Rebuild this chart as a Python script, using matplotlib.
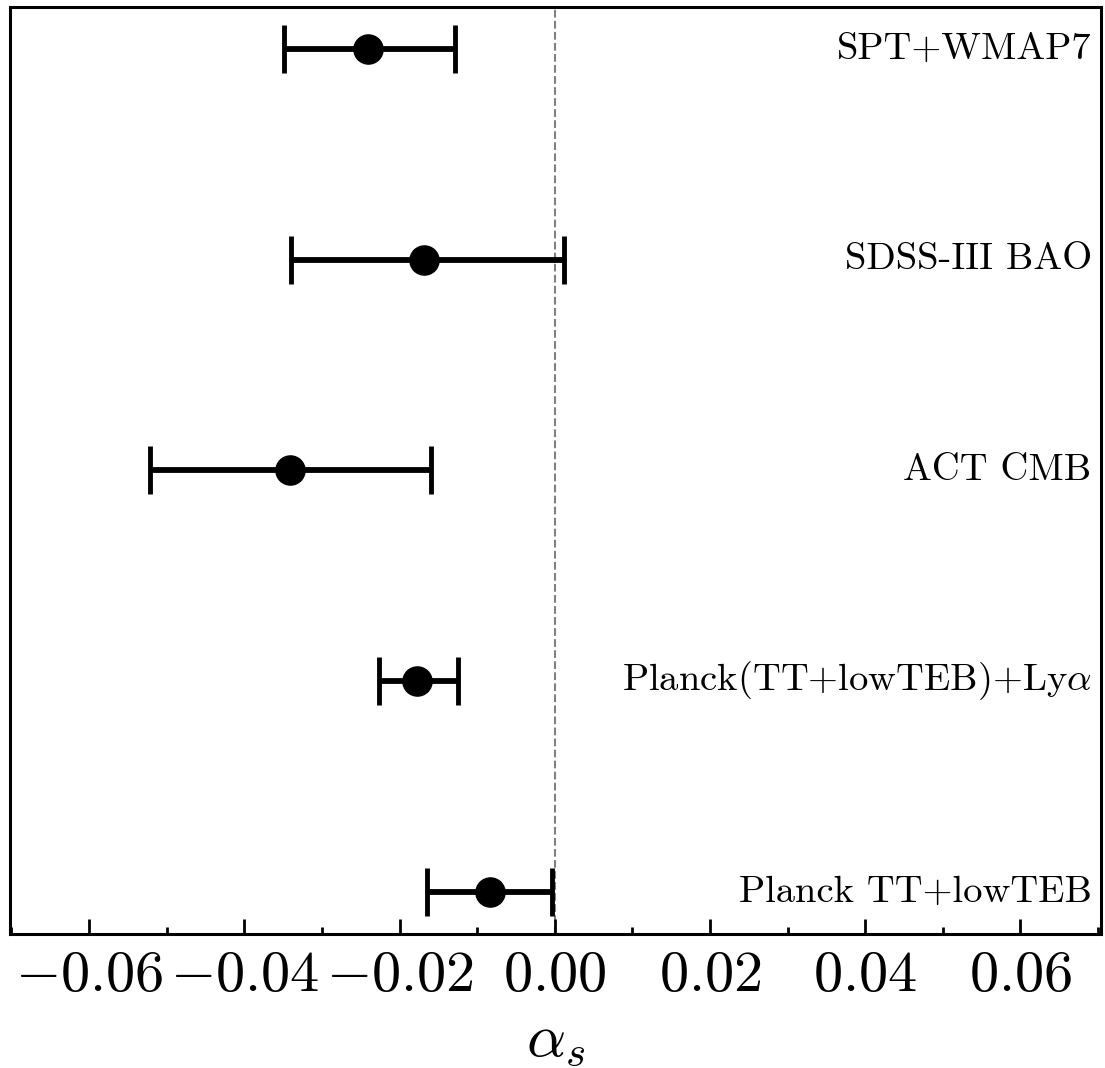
import matplotlib
matplotlib.use("Agg")
import matplotlib.pyplot as plt
from matplotlib.ticker import MultipleLocator

plt.rcParams['font.family'] = 'serif'
plt.rcParams['font.serif'] = ['cmr10']
plt.rcParams['mathtext.fontset'] = 'cm'
plt.rcParams['axes.formatter.use_mathtext'] = True

labels = ["SPT+WMAP7", "SDSS-III BAO", "ACT CMB",
          r"Planck(TT+lowTEB)+Ly$\alpha$", "Planck TT+lowTEB"]
centers = [-0.024, -0.0169, -0.0341, -0.0177, -0.0084]
err_lo = [0.0109, 0.0171, 0.0180, 0.0049, 0.0080]
err_hi = [0.0111, 0.0181, 0.0181, 0.0053, 0.0081]
ypos = [4, 3, 2, 1, 0]

fig = plt.figure(figsize=(11.05, 10.68), dpi=100)
ax = fig.add_axes([0.009, 0.1255, 0.9874, 0.8683])

ax.axvline(0.0, color='grey', ls='--', lw=1.5, zorder=1)
ax.errorbar(centers, ypos, xerr=[err_lo, err_hi], fmt='o', color='black',
            ms=21, elinewidth=4.2, capsize=17.5, capthick=3.5, zorder=3)

for lab, y in zip(labels, ypos):
    ax.text(0.0692, y, lab, ha='right', va='center', fontsize=27.8)

ax.set_xlim(-0.0702, 0.0704)
ax.set_ylim(-0.2, 4.2)
ax.set_yticks([])
ax.xaxis.set_major_locator(MultipleLocator(0.02))
ax.xaxis.set_minor_locator(MultipleLocator(0.01))
ax.tick_params(axis='x', which='major', direction='in', length=11, width=2,
               labelsize=42, pad=12)
ax.tick_params(axis='x', which='minor', direction='in', length=5, width=2)
ax.tick_params(top=False, which='both')
ax.xaxis.set_major_formatter(plt.FuncFormatter(
    lambda v, p: r"$%s%.2f$" % ("-" if v < -1e-9 else "", abs(v))))
for s in ax.spines.values():
    s.set_linewidth(2.2)
ax.set_xlabel(r"$\alpha_s$", fontsize=44, labelpad=8)

fig.savefig("out.png", dpi=100)
